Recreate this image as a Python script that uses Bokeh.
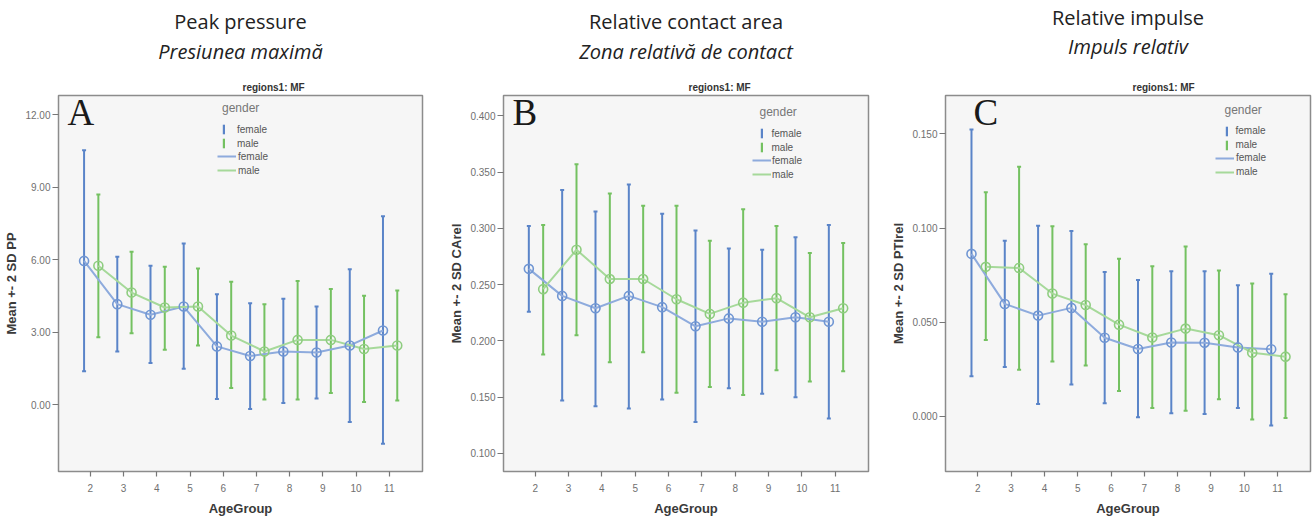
from bokeh.plotting import figure
from bokeh.models import (Legend, LegendItem, Label, Title, FixedTicker,
                          NumeralTickFormatter, Range1d)
from bokeh.layouts import row
from bokeh.embed import file_html
from bokeh.resources import INLINE

# ---------------- data ----------------
age_groups = [2, 3, 4, 5, 6, 7, 8, 9, 10, 11]

pp_female_mean = [5.95, 4.16, 3.72, 4.06, 2.41, 2.01, 2.20, 2.16, 2.45, 3.07]
pp_female_hi = [10.53, 6.12, 5.75, 6.67, 4.57, 4.20, 4.38, 4.06, 5.61, 7.80]
pp_female_lo = [1.38, 2.20, 1.72, 1.49, 0.23, -0.18, 0.07, 0.25, -0.72, -1.62]
pp_male_mean = [5.75, 4.64, 4.02, 4.06, 2.86, 2.20, 2.68, 2.68, 2.30, 2.45]
pp_male_hi = [8.70, 6.33, 5.71, 5.64, 5.09, 4.16, 5.12, 4.79, 4.51, 4.72]
pp_male_lo = [2.79, 2.96, 2.27, 2.45, 0.69, 0.21, 0.21, 0.48, 0.11, 0.17]

ca_female_mean = [0.264, 0.240, 0.229, 0.240, 0.230, 0.213, 0.220, 0.217, 0.221, 0.217]
ca_female_hi = [0.302, 0.334, 0.315, 0.339, 0.313, 0.298, 0.282, 0.281, 0.292, 0.303]
ca_female_lo = [0.226, 0.147, 0.142, 0.140, 0.148, 0.128, 0.158, 0.153, 0.150, 0.131]
ca_male_mean = [0.246, 0.281, 0.255, 0.255, 0.237, 0.224, 0.234, 0.238, 0.221, 0.229]
ca_male_hi = [0.303, 0.357, 0.331, 0.320, 0.320, 0.289, 0.317, 0.302, 0.278, 0.287]
ca_male_lo = [0.188, 0.205, 0.181, 0.190, 0.154, 0.159, 0.152, 0.174, 0.164, 0.173]

pi_female_mean = [0.0863, 0.0597, 0.0535, 0.0576, 0.0417, 0.0358, 0.0392, 0.0391, 0.0366, 0.0356]
pi_female_hi = [0.1524, 0.0933, 0.1012, 0.0984, 0.0767, 0.0724, 0.0771, 0.0771, 0.0696, 0.0757]
pi_female_lo = [0.0213, 0.0262, 0.0065, 0.0169, 0.0070, -0.0005, 0.0017, 0.0012, 0.0044, -0.0049]
pi_male_mean = [0.0794, 0.0788, 0.0652, 0.0591, 0.0487, 0.0419, 0.0466, 0.0431, 0.0338, 0.0317]
pi_male_hi = [0.1190, 0.1326, 0.1010, 0.0914, 0.0837, 0.0797, 0.0902, 0.0774, 0.0705, 0.0649]
pi_male_lo = [0.0405, 0.0248, 0.0291, 0.0270, 0.0134, 0.0044, 0.0030, 0.0091, -0.0017, -0.0009]

pp_ticks = [0, 3, 6, 9, 12]
ca_ticks = [0.10, 0.15, 0.20, 0.25, 0.30, 0.35, 0.40]
pi_ticks = [0.0, 0.05, 0.10, 0.15]

titles_en = ["Peak pressure", "Relative contact area", "Relative impulse"]
titles_ro = ["Presiunea maximă", "Zona relativă de contact", "Impuls relativ"]
panel_letters = ["A", "B", "C"]
y_labels = ["Mean +- 2 SD PP", "Mean +- 2 SD CArel", "Mean +- 2 SD PTIrel"]
sub_title = "regions1: MF"
genders = ["female", "male"]

# ---------------- style ----------------
F_BAR, F_LINE, F_MARK = "#5a84c8", "#8eabdd", "#7096d3"
M_BAR, M_LINE, M_MARK = "#74c161", "#a6d99a", "#8fcd80"
OFF_F, OFF_M = -0.19, 0.24
HEIGHT = 518
BT, BB = 95, 46
FH = HEIGHT - BT - BB
SANS = "Liberation Sans"


def make_panel(i, fm, fhi, flo, mm, mhi, mlo, ticks, fmt, yr, xr,
               width, bl, br, leg, sub_off, letter_x, s2, s3):
    p = figure(width=width, height=HEIGHT, output_backend="svg",
               toolbar_location=None, x_range=Range1d(*xr), y_range=Range1d(*yr),
               min_border_left=bl, min_border_right=br,
               min_border_top=BT, min_border_bottom=BB)
    p.background_fill_color = "#f6f6f6"
    p.border_fill_color = "white"
    p.outline_line_color = "#8c8c8c"
    p.outline_line_width = 1.5
    p.grid.visible = False

    for ax in (p.xaxis[0], p.yaxis[0]):
        ax.axis_line_color = None
        ax.major_tick_in = 0
        ax.minor_tick_line_color = None
        ax.major_tick_line_color = "#777777"
        ax.major_tick_line_width = 1.2
        ax.major_label_text_font = SANS
        ax.major_label_text_font_size = "10px"
        ax.major_label_text_color = "#707070"
        ax.axis_label_text_font = SANS
        ax.axis_label_text_font_style = "bold"
        ax.axis_label_text_font_size = "13px"
        ax.axis_label_text_color = "#3a3a3a"
    p.xaxis.ticker = FixedTicker(ticks=age_groups)
    p.xaxis.major_tick_out = 5
    p.xaxis.major_label_standoff = 7
    p.xaxis.axis_label = "AgeGroup"
    p.xaxis.axis_label_standoff = 6
    p.yaxis.ticker = FixedTicker(ticks=ticks)
    p.yaxis.formatter = NumeralTickFormatter(format=fmt)
    p.yaxis.major_tick_out = 6
    p.yaxis.major_label_standoff = 2
    p.yaxis.axis_label = y_labels[i]
    p.yaxis.axis_label_standoff = 3

    xf = [a + OFF_F for a in age_groups]
    xm = [a + OFF_M for a in age_groups]

    # error bars
    ef = p.vbar(x=xf, bottom=flo, top=fhi, width=0.06, fill_color=F_BAR, line_color=None)
    em = p.vbar(x=xm, bottom=mlo, top=mhi, width=0.06, fill_color=M_BAR, line_color=None)
    p.scatter(x=xf + xf, y=flo + fhi, marker="dash", size=4, line_color=F_BAR, line_width=2)
    p.scatter(x=xm + xm, y=mlo + mhi, marker="dash", size=4, line_color=M_BAR, line_width=2)
    # mean lines
    lf = p.line(x=xf, y=fm, line_color=F_LINE, line_width=2)
    lm = p.line(x=xm, y=mm, line_color=M_LINE, line_width=2)
    p.scatter(x=xf, y=fm, marker="circle", size=9, fill_color=None,
              line_color=F_MARK, line_width=1.6)
    p.scatter(x=xm, y=mm, marker="circle", size=9, fill_color=None,
              line_color=M_MARK, line_width=1.6)

    lx_line, lx_err, lx_text, ly1, ly2 = leg
    common = dict(padding=0, margin=0, spacing=2, glyph_height=12, label_height=12,
                  label_text_font=SANS, label_text_font_size="10px",
                  label_text_color="#555555", background_fill_alpha=0,
                  border_line_alpha=0)
    leg1 = Legend(items=[LegendItem(label=genders[0], renderers=[ef]),
                         LegendItem(label=genders[1], renderers=[em])],
                  title="gender", title_text_font=SANS, title_text_font_size="12px",
                  title_text_font_style="normal", title_text_color="#777777",
                  title_standoff=8, glyph_width=3,
                  label_standoff=int(round(lx_text - lx_err - 2)),
                  location=(lx_err - 1.5, ly1), **common)
    leg2 = Legend(items=[LegendItem(label=genders[0], renderers=[lf]),
                         LegendItem(label=genders[1], renderers=[lm])],
                  glyph_width=19, label_standoff=int(round(lx_text - lx_line - 19)),
                  location=(lx_line, ly2), **common)
    p.add_layout(leg1)
    p.add_layout(leg2)

    # headings (closest to the frame first)
    p.add_layout(Title(text=sub_title, text_font=SANS, text_font_size="10px",
                       text_font_style="bold", text_color="#333333",
                       align="left", offset=sub_off, standoff=6), "above")
    p.add_layout(Title(text=titles_ro[i], text_font="Open Sans", text_font_size="20px",
                       text_font_style="italic", text_color="#222222",
                       align="center", standoff=s2), "above")
    p.add_layout(Title(text=titles_en[i], text_font="Open Sans", text_font_size="20px",
                       text_font_style="normal", text_color="#222222",
                       align="center", standoff=s3), "above")

    p.add_layout(Label(x=letter_x, y=FH - 18, x_units="screen", y_units="screen",
                       text=panel_letters[i], text_font="Liberation Serif",
                       text_font_size="37px", text_align="left",
                       text_baseline="alphabetic", text_color="#1a1a1a"))
    return p


pA = make_panel(0, pp_female_mean, pp_female_hi, pp_female_lo,
                pp_male_mean, pp_male_hi, pp_male_lo, pp_ticks, "0.00",
                (-2.77, 12.8), (1.04, 12.0), 440, 58, 18,
                (159, 165.5, 180, FH - 55, FH - 82), 184, 9, 23, -21)
pB = make_panel(1, ca_female_mean, ca_female_hi, ca_female_lo,
                ca_male_mean, ca_male_hi, ca_male_lo, ca_ticks, "0.000",
                (0.084, 0.418), (1.05, 12.0), 440, 63, 12,
                (249, 258, 269, FH - 59, FH - 86), 185, 9, 23, -21)
pC = make_panel(2, pi_female_mean, pi_female_hi, pi_female_lo,
                pi_male_mean, pi_male_hi, pi_male_lo, pi_ticks, "0.000",
                (-0.0293, 0.1704), (1.03, 11.99), 433, 65, 3,
                (270, 281, 291, FH - 56.5, FH - 83.5), 187, 28, 33, -33)

layout = row(pA, pB, pC)
open("out.html", "w").write(file_html(layout, INLINE))
